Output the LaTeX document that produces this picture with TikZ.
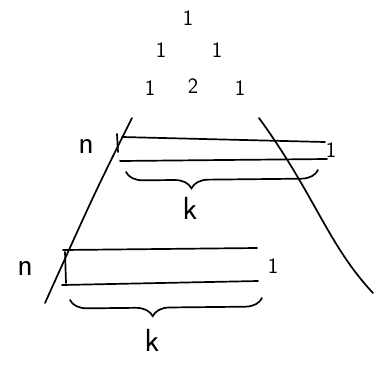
\documentclass[tikz,border=0pt]{standalone}
\usetikzlibrary{positioning, decorations.pathreplacing, calc}

\begin{document}
\begin{tikzpicture}[x=1pt, y=-1pt, line width=1.7pt, line cap=round,
  num/.style={font=\sffamily\fontsize{22}{24}\selectfont, inner sep=0pt},
  lbl/.style={font=\sffamily\fontsize{32}{34}\selectfont, inner sep=0pt},
  rowbrace/.style={decorate, decoration={brace, mirror, amplitude=17pt, aspect=#1}}]
  \useasboundingbox (0,0) rectangle (387,365);

  % the top of the triangle
  \node[num] (top) at (188,18) {1};
  \node[num] (l1) at (161,50) {1};
  \node[num] (r1) at (217,50) {1};
  \node[num] (l2) at (150,88) {1};
  \node[num] (mid) at (193,86) {2};
  \node[num] (r2) at (240,88) {1};

  % sides
  \coordinate (lt) at (132,118);
  \coordinate (lb) at (45,303);
  \coordinate (rt) at (259,118);
  \coordinate (rb) at (373,293);
  \draw (lt) .. controls (96,190) .. (lb);
  \draw (rt) .. controls (315,195) and (328,245) .. (rb);

  % row n, upper
  \node[lbl] (n1) at (86,146) {n};
  \coordinate (u1a) at (122,137);
  \coordinate (u1b) at (325,142);
  \coordinate (u1c) at (120,161);
  \coordinate (u1d) at (327,159);
  \draw (u1a) -- (u1b);
  \draw (u1c) -- (u1d);
  \draw (117,134) -- (118,152);
  \node[num] (e1) at (331,150) {1};
  \draw[rowbrace=0.34] (126,172) -- (318,170);
  \node[lbl] (k1) at (190,208) {k};

  % row n, lower
  \node[lbl] (n2) at (25,268) {n};
  \coordinate (u2a) at (63,250);
  \coordinate (u2b) at (257,248);
  \coordinate (u2c) at (62,285);
  \coordinate (u2d) at (258,281);
  \draw (u2a) -- (u2b);
  \draw (u2c) -- (u2d);
  \draw (65,252) -- (66,283);
  \node[num] (e2) at (273,266) {1};
  \draw[rowbrace=0.43] (70,300) -- (262,298);
  \node[lbl] (k2) at (152,340) {k};
\end{tikzpicture}
\end{document}
